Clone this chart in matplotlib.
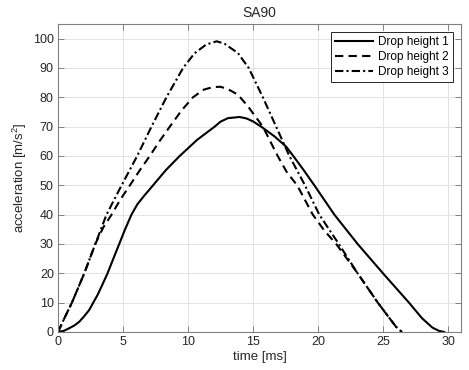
import matplotlib
matplotlib.use("Agg")
import matplotlib.pyplot as plt

plt.rcParams['font.family'] = ['Liberation Sans', 'DejaVu Sans']
plt.rcParams['mathtext.fontset'] = 'custom'
plt.rcParams['mathtext.rm'] = 'Liberation Sans'
plt.rcParams['mathtext.it'] = 'Liberation Sans'

# Drop height 1 (solid)
t1 = [0, 0.45, 0.87, 1.25, 1.64, 2.0, 2.4, 2.71, 3.04, 3.4, 3.81, 4.32, 4.71,
      5.14, 5.65, 6.1, 6.6, 7.31, 8.3, 9.36, 10.7, 12.05, 12.5, 13.07, 13.97,
      14.5, 15.0, 15.63, 16.65, 17.55, 18.1, 18.88, 19.72, 21.26, 23.05, 25.0,
      27.0, 28.0, 28.8, 29.3, 29.7]
a1 = [0, 0.4, 1.3, 2.2, 3.5, 5.3, 7.5, 10.0, 12.6, 16.0, 20.0, 25.7, 30.0,
      34.8, 40.0, 43.5, 46.3, 50.0, 55.2, 60.0, 65.5, 70.0, 71.7, 72.9, 73.3,
      72.8, 71.8, 70.0, 66.7, 63.2, 60.0, 55.3, 50.0, 40.0, 30.0, 20.0,
      10.0, 4.7, 1.5, 0.4, 0]

# Drop height 2 (dashed)
t2 = [0, 0.49, 1.07, 2.02, 2.87, 3.5, 4.12, 4.8, 5.53, 6.3, 7.06, 7.8, 8.6,
      9.5, 10.38, 11.2, 11.92, 12.5, 13.07, 13.84, 14.6, 15.76, 16.9, 17.6,
      18.4, 19.6, 20.5, 21.4, 23.05, 24.6, 25.5, 26.0, 26.45]
a2 = [0, 4.7, 10.0, 20.0, 30.0, 35.8, 40.0, 45.2, 50.0, 55.2, 60.0, 65.0, 70.0,
      75.5, 80.0, 82.6, 83.5, 83.6, 82.8, 80.9, 77.0, 70.0, 60.0, 54.5,
      50.0, 40.0, 34.5, 30.0, 20.0, 10.0, 4.7, 1.8, 0]

# Drop height 3 (dash-dot)
t3 = [0, 0.49, 1.07, 2.02, 2.87, 3.73, 4.89, 6.09, 7.19, 8.34, 9.62, 10.5,
      11.4, 12.2, 12.8, 13.84, 14.67, 15.76, 16.78, 17.8, 19.0, 20.1, 21.6,
      23.05, 24.6, 25.5, 26.0, 26.45]
a3 = [0, 4.7, 10.0, 20.0, 30.0, 40.0, 50.0, 60.0, 70.0, 80.0, 90.0, 95.0,
      98.0, 99.1, 98.3, 95.1, 90.0, 80.0, 70.0, 60.0, 50.0, 40.0, 30.0,
      20.0, 10.0, 4.7, 1.8, 0]

labels = ['Drop height 1', 'Drop height 2', 'Drop height 3']
xticks = [0, 5, 10, 15, 20, 25, 30]
yticks = [0, 10, 20, 30, 40, 50, 60, 70, 80, 90, 100]

fig = plt.figure(figsize=(4.69, 3.70), dpi=100)
ax = fig.add_axes([58/469, 38/370, 403/469, 308/370])

lw = 1.5
ax.plot(t1, a1, color='black', lw=lw, linestyle='-', label=labels[0])
ax.plot(t2, a2, color='black', lw=lw, linestyle=(0, (4, 2.5)), label=labels[1])
ax.plot(t3, a3, color='black', lw=lw, linestyle=(0, (4, 1.5, 1, 1.5)), label=labels[2])

ax.set_xlim(0, 31)
ax.set_ylim(0, 105)
ax.set_xticks(xticks)
ax.set_yticks(yticks)
ax.grid(True, color='#e3e3e3', lw=0.7)
ax.set_axisbelow(True)

for s in ax.spines.values():
    s.set_color('#808080')
    s.set_linewidth(0.8)
ax.tick_params(direction='in', length=4, width=0.7, color='#808080',
               top=True, right=True, labelsize=9, labelcolor='#262626', pad=3)

ax.set_xlabel('time [ms]', fontsize=9.5, color='#262626', labelpad=2)
ax.set_ylabel('acceleration [m/s$^2$]', fontsize=9.5, color='#262626', labelpad=3)
ax.set_title('SA90', fontsize=10, color='#262626', pad=5)

leg = ax.legend(loc='upper right', fontsize=8.5, handlelength=3.2,
                fancybox=False, framealpha=1, edgecolor='#262626',
                borderaxespad=0.7, handletextpad=0.4, labelspacing=0.25,
                borderpad=0.35)
leg.get_frame().set_linewidth(0.7)

fig.savefig('out.png', dpi=100)
